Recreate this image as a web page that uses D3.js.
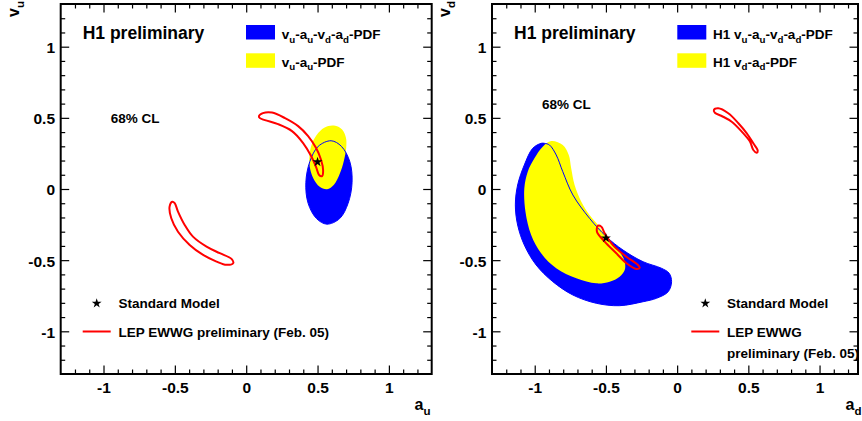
<html>
<head>
<script src="https://d3js.org/d3.v7.min.js"></script>
<style>
body { margin: 0; background: #fff; }
text { font-family: "Liberation Sans", Arial, sans-serif; font-weight: bold; }
</style>
</head>
<body>
<div id="chart"></div>
<script>

// Tick values on every axis (both panels).
var majorTicks = [-1, -0.5, 0, 0.5, 1];
var minorTicks = [-1.2, -1.1, -0.9, -0.8, -0.7, -0.6, -0.4, -0.3, -0.2, -0.1,
                  0.1, 0.2, 0.3, 0.4, 0.6, 0.7, 0.8, 0.9, 1.1, 1.2];

// Left panel (a_u, v_u) 68% CL contours.
var leftBlue = [[0.595,0.339],[0.667,0.300],[0.726,0.193],[0.742,0.046],[0.714,-0.101],
                [0.655,-0.208],[0.565,-0.247],[0.493,-0.208],[0.434,-0.101],[0.418,0.046],
                [0.446,0.193],[0.505,0.300]];
var leftYellow = [[0.624,0.444],[0.672,0.418],[0.699,0.360],[0.701,0.290],[0.685,0.200],
                  [0.655,0.105],[0.615,0.030],[0.567,-0.002],[0.515,0.015],[0.470,0.075],
                  [0.445,0.160],[0.445,0.250],[0.470,0.340],[0.520,0.410],[0.575,0.442]];
var leftLepA = [[0.089,0.512],[0.117,0.533],[0.181,0.537],[0.272,0.498],[0.364,0.442],
                [0.434,0.372],[0.490,0.288],[0.525,0.204],[0.539,0.133],[0.532,0.091],
                [0.511,0.098],[0.490,0.154],[0.455,0.232],[0.399,0.323],[0.321,0.407],
                [0.223,0.456],[0.131,0.484],[0.096,0.498]];
var leftLepB = [[-0.518,-0.089],[-0.537,-0.124],[-0.525,-0.206],[-0.478,-0.300],[-0.396,-0.393],
                [-0.302,-0.463],[-0.208,-0.510],[-0.138,-0.533],[-0.091,-0.521],[-0.103,-0.491],
                [-0.185,-0.451],[-0.278,-0.405],[-0.373,-0.335],[-0.431,-0.253],[-0.478,-0.159],
                [-0.501,-0.100]];
var leftSM = [0.5, 0.19];

// Right panel (a_d, v_d) 68% CL contours.
var rightBlue = [[-0.955,0.321],[-1.014,0.286],[-1.073,0.169],[-1.120,0.028],[-1.136,-0.112],
                 [-1.120,-0.253],[-1.073,-0.394],[-0.990,-0.534],[-0.873,-0.651],[-0.732,-0.745],
                 [-0.568,-0.803],[-0.404,-0.820],[-0.239,-0.792],[-0.145,-0.768],[-0.063,-0.722],
                 [-0.039,-0.651],[-0.056,-0.592],[-0.110,-0.557],[-0.239,-0.511],[-0.380,-0.429],
                 [-0.497,-0.335],[-0.615,-0.206],[-0.732,-0.042],[-0.803,0.122],[-0.849,0.239],
                 [-0.896,0.309],[-0.932,0.321]];
var rightYellow = [[-0.885,0.337],[-0.803,0.309],[-0.761,0.239],[-0.744,0.145],[-0.720,0.028],
                   [-0.673,-0.089],[-0.615,-0.183],[-0.556,-0.253],[-0.474,-0.370],[-0.404,-0.441],
                   [-0.368,-0.511],[-0.368,-0.569],[-0.404,-0.616],[-0.474,-0.651],[-0.568,-0.663],
                   [-0.708,-0.628],[-0.849,-0.557],[-0.955,-0.452],[-1.025,-0.323],[-1.065,-0.160],
                   [-1.073,0.005],[-1.049,0.122],[-1.002,0.216],[-0.944,0.297]];
var rightLepA = [[0.258,0.555],[0.289,0.567],[0.359,0.532],[0.430,0.462],[0.489,0.391],
                 [0.535,0.321],[0.566,0.269],[0.559,0.255],[0.535,0.274],[0.512,0.332],
                 [0.454,0.403],[0.383,0.473],[0.313,0.513],[0.265,0.536]];
var rightLepB = [[-0.556,-0.258],[-0.563,-0.300],[-0.509,-0.370],[-0.427,-0.452],[-0.356,-0.522],
                 [-0.286,-0.562],[-0.263,-0.553],[-0.275,-0.534],[-0.356,-0.476],[-0.451,-0.394],
                 [-0.509,-0.311],[-0.532,-0.265]];
var rightSM = [-0.5, -0.345];

// Texts.
var titleText = "H1 preliminary";
var clText = "68% CL";
var leftLegend = ["v_u-a_u-v_d-a_d-PDF", "v_u-a_u-PDF"];
var rightLegend = ["H1 v_u-a_u-v_d-a_d-PDF", "H1 v_d-a_d-PDF"];
var smText = "Standard Model";

var svg = d3.select("#chart").append("svg")
    .attr("width", 862).attr("height", 421);

// Write a string where "_x" means subscript x.
function richText(sel, str, size, shift) {
    var parts = [];
    for (var i = 0; i < str.length; i++) {
        if (str[i] == "_") { parts.push({t: str[i + 1], sub: true}); i++; }
        else if (parts.length && !parts[parts.length - 1].sub) parts[parts.length - 1].t += str[i];
        else parts.push({t: str[i], sub: false});
    }
    var wasSub = false;
    parts.forEach(function(p) {
        var ts = sel.append("tspan").text(p.t);
        if (p.sub) ts.attr("font-size", size * 0.72).attr("dy", shift);
        else { ts.attr("font-size", size); if (wasSub) ts.attr("dy", -shift); }
        wasSub = p.sub;
    });
}

function drawPanel(p) {
    var x = d3.scaleLinear().domain(p.xDomain).range(p.xRange);
    var y = d3.scaleLinear().domain([-1.3, 1.3]).range([374, 4]);
    var g = svg.append("g");
    var line = d3.line().x(function(d) { return x(d[0]); }).y(function(d) { return y(d[1]); })
        .curve(d3.curveCatmullRomClosed);

    // Filled contours, blue below yellow, then the blue contour line on top.
    g.append("path").attr("d", line(p.blue)).attr("fill", "#0000ff");
    g.append("path").attr("d", line(p.yellow)).attr("fill", "#ffff00");
    g.append("path").attr("d", line(p.blue)).attr("fill", "none").attr("stroke", "#0000ff").attr("stroke-width", 1);

    // LEP contours.
    [p.lepA, p.lepB].forEach(function(c) {
        g.append("path").attr("d", line(c)).attr("fill", "none").attr("stroke", "#ff0000").attr("stroke-width", 2);
    });

    // Standard Model point.
    var star = d3.symbol().type(d3.symbolStar).size(30);
    g.append("path").attr("d", star()).attr("transform", "translate(" + x(p.sm[0]) + "," + y(p.sm[1]) + ")");

    // Axes: major and minor ticks on all four sides, pointing inward.
    var x0 = p.xRange[0], x1 = p.xRange[1];
    function axis(a, vals, len, labels) {
        return a.tickValues(vals).tickSizeInner(-len).tickSizeOuter(0)
            .tickFormat(labels ? function(d) { return String(d); } : "");
    }
    var ax = [
        [d3.axisBottom(x), "translate(0,374)", true],
        [d3.axisTop(x), "translate(0,4)", false],
        [d3.axisLeft(y), "translate(" + x0 + ",0)", true],
        [d3.axisRight(y), "translate(" + x1 + ",0)", false]
    ];
    ax.forEach(function(a, k) {
        var n = g.append("g").attr("transform", a[1]).call(axis(a[0], minorTicks, 4.5, false))
            .call(function(s) { s.select(".domain").remove(); });
        n.selectAll("line").attr("stroke-width", 1.2);
        var m = g.append("g").attr("transform", a[1])
            .call(axis(a[0], majorTicks, 8.5, a[2]).tickPadding(k == 0 ? 7.5 : 5.7))
            .call(function(s) { s.select(".domain").remove(); });
        m.selectAll("line").attr("stroke-width", 1.2);
        m.selectAll("text").style("font-size", "15.5px");
        if (k == 2) m.selectAll("text").attr("dy", "0.38em");
    });

    // Frame.
    g.append("rect").attr("x", x0).attr("y", 4).attr("width", x1 - x0).attr("height", 370)
        .attr("fill", "none").attr("stroke", "#000").attr("stroke-width", 2);

    // Axis titles.
    richText(g.append("text").attr("x", p.xTitleX).attr("y", 410).attr("text-anchor", "end"), p.xTitle, 16, 5);
    richText(g.append("text").attr("transform", "translate(" + (x0 - 42.2) + ",1) rotate(-90)")
        .attr("text-anchor", "end"), p.yTitle, 16, 5);

    // Title and CL text.
    g.append("text").attr("x", x0 + 22).attr("y", 39.3).attr("font-size", 17.5).text(titleText);
    g.append("text").attr("x", x0 + 50).attr("y", p.clY).attr("font-size", 13.5).text(clText);

    // Top legend.
    var lx = x0 + 185.3;
    [["#0000ff", 25, 39], ["#ffff00", 53.3, 66.7]].forEach(function(r, i) {
        g.append("rect").attr("x", lx).attr("y", r[1]).attr("width", 29).attr("height", 14.5).attr("fill", r[0]);
        richText(g.append("text").attr("x", lx + 35.7).attr("y", r[2]), p.legend[i], 13.5, 3.5);
    });

    // Bottom legend.
    g.append("path").attr("d", star()).attr("transform", "translate(" + p.smX + ",303.3)");
    g.append("text").attr("x", p.smX + 21.7).attr("y", 308.3).attr("font-size", 13.5).text(smText);
    g.append("line").attr("x1", p.smX - 14).attr("x2", p.smX + 14).attr("y1", 331.5).attr("y2", 331.5)
        .attr("stroke", "#ff0000").attr("stroke-width", 2);
    p.lepText.forEach(function(t, i) {
        g.append("text").attr("x", p.smX + 21.7).attr("y", 337.3 + i * 20.7).attr("font-size", 13.5).text(t);
    });
}

drawPanel({
    xDomain: [-1.3, 1.3], xRange: [60.7, 431.7],
    blue: leftBlue, yellow: leftYellow, lepA: leftLepA, lepB: leftLepB, sm: leftSM,
    xTitle: "a_u", yTitle: "v_u", xTitleX: 430.5, clY: 123.3,
    legend: leftLegend, smX: 96.7, lepText: ["LEP EWWG preliminary (Feb. 05)"]
});

drawPanel({
    xDomain: [-1.3, 1.27], xRange: [492, 858],
    blue: rightBlue, yellow: rightYellow, lepA: rightLepA, lepB: rightLepB, sm: rightSM,
    xTitle: "a_d", yTitle: "v_d", xTitleX: 861.5, clY: 109.3,
    legend: rightLegend, smX: 705.3, lepText: ["LEP EWWG", "preliminary (Feb. 05)"]
});

</script>
</body>
</html>
